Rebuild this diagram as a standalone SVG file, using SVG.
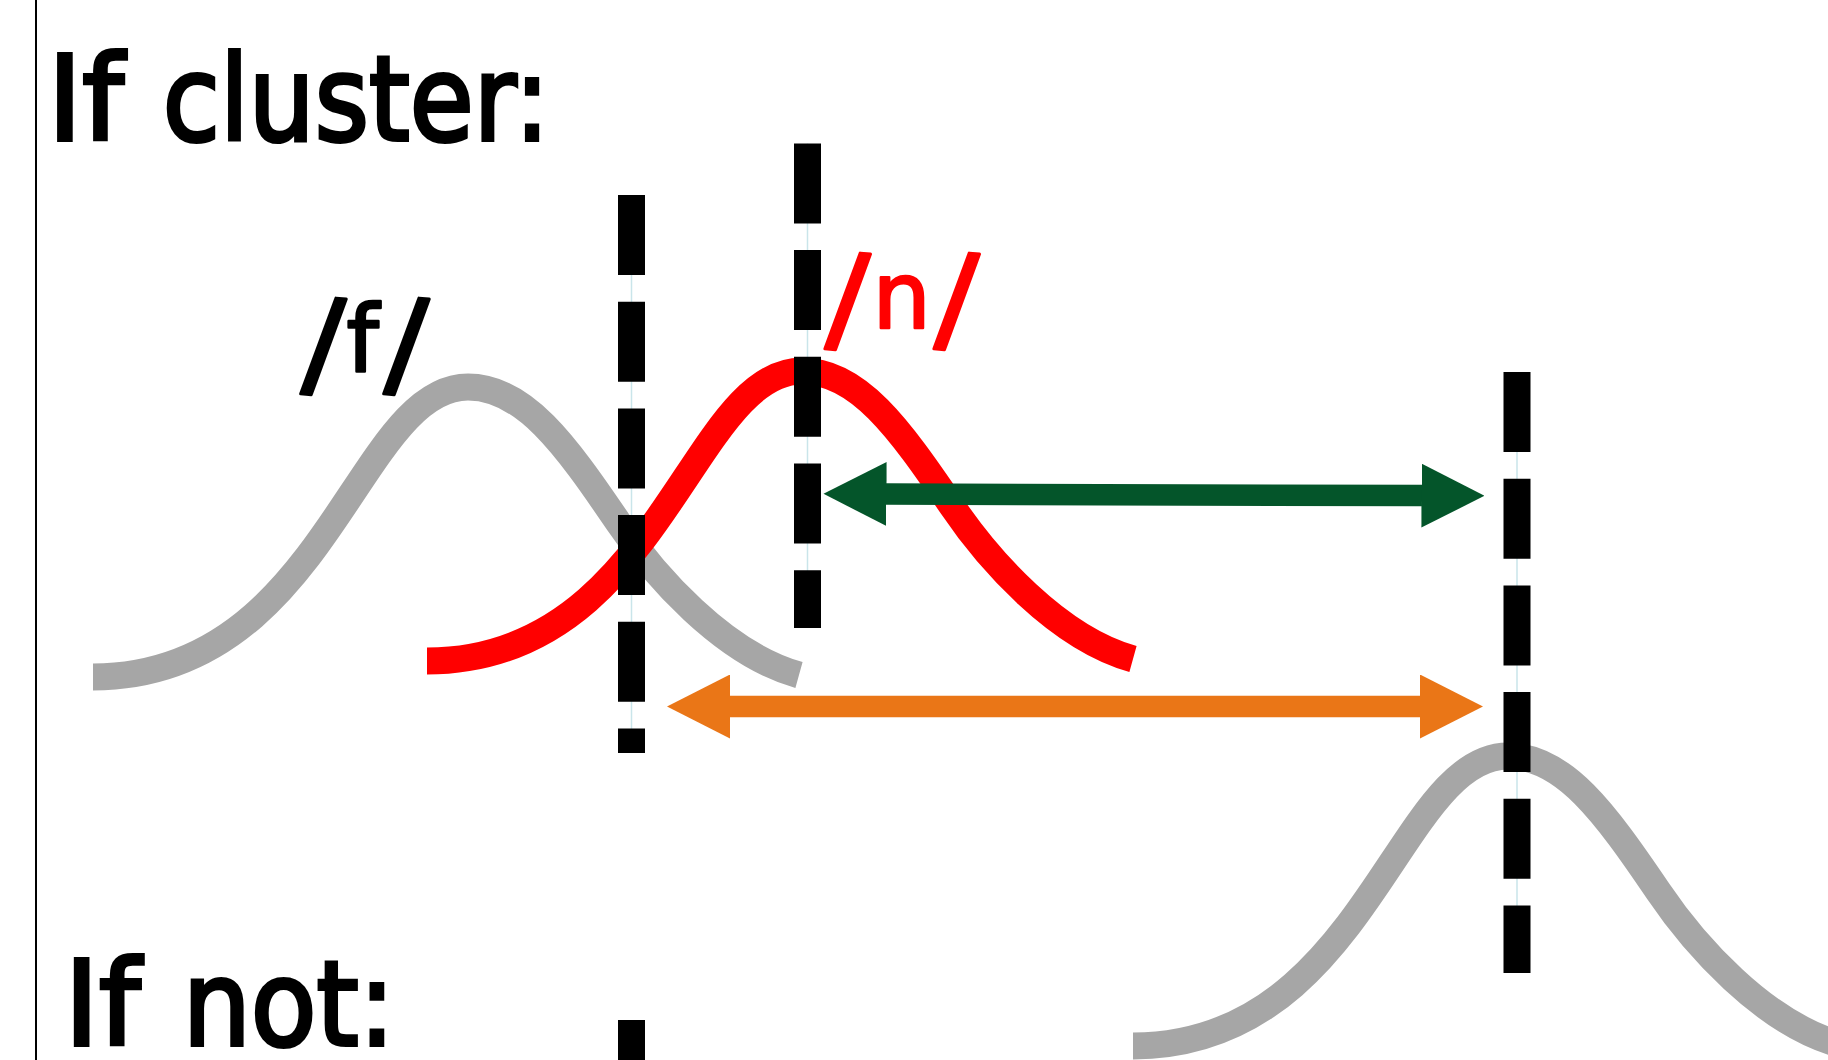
<svg xmlns="http://www.w3.org/2000/svg" width="1828" height="1060" viewBox="0 0 1828 1060">
<style>
.big{font-family:"DejaVu Sans","Liberation Sans",sans-serif;font-size:118px;fill:#000;stroke:#000;stroke-width:4px}
.lbl{font-family:"DejaVu Sans","Liberation Sans",sans-serif;font-size:92px;stroke-width:2.5px;stroke-linejoin:round}
.sl{font-family:"Liberation Sans",Arial,sans-serif;font-size:134px;stroke-width:3px}
.blk{fill:#000;stroke:#000}
.red{fill:#ff0000;stroke:#ff0000}
.curve{fill:none;stroke-width:27px;stroke-linecap:butt}
.guide{stroke:#c9e5ea;stroke-width:1.5px}
.dash{stroke:#000;stroke-width:27px;stroke-dasharray:80 26.7}
.shaft{fill:none;stroke-width:21.5px}
</style>
<defs>
<path id="bell" d="M0,0 C232,0 264,-290 375,-290 C431,-290 472,-233 525,-155 C560,-103 630,-23 706,-2"/>
<marker id="hg" markerUnits="userSpaceOnUse" viewBox="0 0 63 64" markerWidth="63" markerHeight="64" refX="0.5" refY="32" orient="auto-start-reverse"><path d="M0,0 L63,32 L0,64 Z" fill="#04552a"/></marker>
<marker id="ho" markerUnits="userSpaceOnUse" viewBox="0 0 63 64" markerWidth="63" markerHeight="64" refX="0.5" refY="32" orient="auto-start-reverse"><path d="M0,0 L63,32 L0,64 Z" fill="#ea7617"/></marker>
</defs>
<rect width="1828" height="1060" fill="#fff"/>
<g id="divider"><line x1="36" y1="0" x2="36" y2="1060" stroke="#000" stroke-width="2"/></g>
<g id="title-cluster"><text class="big" y="140"><tspan x="47.5">If </tspan><tspan x="162.8" textLength="386.8" lengthAdjust="spacingAndGlyphs">cluster:</tspan></text></g>
<g id="title-not"><text class="big" y="1045"><tspan x="64.2">If </tspan><tspan x="182.7" textLength="212.3" lengthAdjust="spacingAndGlyphs">not:</tspan></text></g>
<g id="curve-f"><use href="#bell" transform="translate(93,677)" class="curve" stroke="#a6a6a6"/></g>
<g id="curve-n"><use href="#bell" transform="translate(427,661)" class="curve" stroke="#ff0000"/></g>
<g id="curve-other"><use href="#bell" transform="translate(1133,1046)" class="curve" stroke="#a6a6a6"/></g>
<g id="boundary-1"><line class="guide" x1="631.5" y1="195" x2="631.5" y2="753"/><line class="dash" x1="631.5" y1="195" x2="631.5" y2="753"/></g>
<g id="boundary-2"><line class="guide" x1="807.5" y1="143.4" x2="807.5" y2="628"/><line class="dash" x1="807.5" y1="143.4" x2="807.5" y2="628"/></g>
<g id="boundary-3"><line class="guide" x1="1517" y1="372" x2="1517" y2="973"/><line class="dash" x1="1517" y1="372" x2="1517" y2="973"/></g>
<g id="boundary-4"><line class="guide" x1="631.5" y1="1020" x2="631.5" y2="1060"/><line class="dash" x1="631.5" y1="1020" x2="631.5" y2="1100"/></g>
<g id="connectors">
<line class="shaft" x1="886" y1="494" x2="1422" y2="495.6" stroke="#04552a" marker-start="url(#hg)" marker-end="url(#hg)"/>
<line class="shaft" x1="729.5" y1="706.5" x2="1420.5" y2="706.5" stroke="#ea7617" marker-start="url(#ho)" marker-end="url(#ho)"/>
</g>
<g id="label-f"><text class="lbl blk"><tspan class="sl" x="300.7" y="392.5" rotate="5">/</tspan><tspan x="346.5" y="371.8">f</tspan><tspan class="sl" x="383.7" y="392.5" rotate="5">/</tspan></text></g>
<g id="label-n"><text class="lbl red"><tspan class="sl" x="825" y="347.6" rotate="5">/</tspan><tspan x="872.5" y="327.5">n</tspan><tspan class="sl" x="934" y="347.6" rotate="5">/</tspan></text></g>
</svg>
